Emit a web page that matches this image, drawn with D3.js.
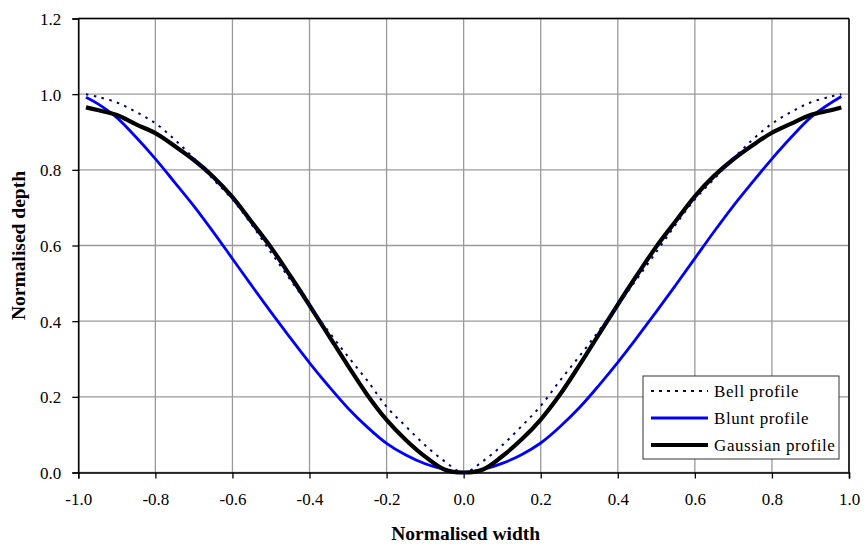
<!DOCTYPE html>
<html>
<head>
<meta charset="utf-8">
<script src="https://cdn.jsdelivr.net/npm/d3@7"></script>
<style>
  html, body { margin: 0; padding: 0; background: #fff; }
  svg { display: block; }
  text { font-family: "Liberation Serif", "Times New Roman", serif; fill: #000; }
</style>
</head>
<body>
<svg id="chart" width="864" height="545"></svg>
<script>
// ---- data ----
const widths = [-0.98, -0.95, -0.90, -0.85, -0.80, -0.75, -0.70, -0.65, -0.60, -0.55, -0.50,
                -0.45, -0.40, -0.35, -0.30, -0.25, -0.20, -0.15, -0.10, -0.05, 0.00,
                0.05, 0.10, 0.15, 0.20, 0.25, 0.30, 0.35, 0.40, 0.45, 0.50,
                0.55, 0.60, 0.65, 0.70, 0.75, 0.80, 0.85, 0.90, 0.95, 0.98];

const bellProfile = [1.000, 0.993, 0.978, 0.953, 0.923, 0.880, 0.830, 0.775, 0.722, 0.655, 0.582,
                     0.510, 0.440, 0.372, 0.306, 0.243, 0.174, 0.122, 0.072, 0.030, 0.000,
                     0.030, 0.072, 0.122, 0.176, 0.243, 0.307, 0.373, 0.442, 0.512, 0.583,
                     0.655, 0.722, 0.776, 0.830, 0.880, 0.922, 0.953, 0.978, 0.993, 1.000];

const bluntProfile = [0.992, 0.975, 0.938, 0.886, 0.829, 0.767, 0.704, 0.636, 0.565, 0.494, 0.424,
                      0.356, 0.290, 0.228, 0.170, 0.120, 0.077, 0.046, 0.023, 0.008, 0.000,
                      0.008, 0.024, 0.047, 0.078, 0.121, 0.171, 0.229, 0.291, 0.357, 0.425,
                      0.495, 0.566, 0.637, 0.705, 0.768, 0.829, 0.886, 0.938, 0.975, 0.994];

const gaussianProfile = [0.965, 0.958, 0.945, 0.920, 0.897, 0.863, 0.826, 0.782, 0.728, 0.662, 0.595,
                         0.520, 0.442, 0.362, 0.282, 0.205, 0.139, 0.086, 0.042, 0.008, 0.000,
                         0.008, 0.043, 0.087, 0.140, 0.206, 0.283, 0.364, 0.444, 0.522, 0.597,
                         0.664, 0.730, 0.784, 0.828, 0.865, 0.898, 0.922, 0.945, 0.957, 0.965];

const xTicks = [-1.0, -0.8, -0.6, -0.4, -0.2, 0.0, 0.2, 0.4, 0.6, 0.8, 1.0];
const yTicks = [0.0, 0.2, 0.4, 0.6, 0.8, 1.0, 1.2];
const seriesNames = ["Bell profile", "Blunt profile", "Gaussian profile"];
const xTitle = "Normalised width";
const yTitle = "Normalised depth";

// ---- layout ----
const plot = { left: 78.3, right: 849, top: 18.5, bottom: 472.5 };
const svg = d3.select("#chart");

const x = d3.scaleLinear().domain([-1, 1]).range([plot.left, plot.right]);
const y = d3.scaleLinear().domain([0, 1.2]).range([plot.bottom, plot.top]);
const fmt = d => d3.format(".1f")(d).replace("\u2212", "-");

// gridlines
const grid = svg.append("g");
grid.selectAll("line.v").data(xTicks).join("line")
  .attr("x1", d => x(d)).attr("x2", d => x(d))
  .attr("y1", plot.top).attr("y2", plot.bottom)
  .attr("stroke", "#9a9a9a").attr("stroke-width", 1.3);
grid.selectAll("line.h").data(yTicks).join("line")
  .attr("x1", plot.left).attr("x2", plot.right)
  .attr("y1", d => y(d)).attr("y2", d => y(d))
  .attr("stroke", "#9a9a9a").attr("stroke-width", 1.3);

// frame (top & right)
svg.append("line").attr("x1", plot.left).attr("x2", plot.right).attr("y1", plot.top).attr("y2", plot.top)
  .attr("stroke", "#000").attr("stroke-width", 1.5);
svg.append("line").attr("x1", plot.right).attr("x2", plot.right).attr("y1", plot.top).attr("y2", plot.bottom)
  .attr("stroke", "#000").attr("stroke-width", 1.5);

// axes
const xAxis = d3.axisBottom(x).tickValues(xTicks).tickFormat(fmt).tickSize(6).tickPadding(14);
const yAxis = d3.axisLeft(y).tickValues(yTicks).tickFormat(fmt).tickSize(6).tickPadding(11);

const gx = svg.append("g").attr("transform", `translate(0,${plot.bottom})`).call(xAxis);
const gy = svg.append("g").attr("transform", `translate(${plot.left},0)`).call(yAxis);
[gx, gy].forEach(g => {
  g.attr("font-family", "Liberation Serif, Times New Roman, serif").attr("font-size", 17);
  g.select(".domain").attr("stroke", "#000").attr("stroke-width", 1.5);
  g.selectAll(".tick line").attr("stroke", "#000").attr("stroke-width", 1.3);
  g.selectAll(".tick text").attr("fill", "#000");
});
gy.selectAll(".tick text").attr("dy", "0.35em");

// axis titles
svg.append("text").attr("x", (plot.left + plot.right) / 2 + 2).attr("y", 540)
  .attr("text-anchor", "middle").attr("font-weight", "bold").attr("font-size", 19.5)
  .text(xTitle);
svg.append("text").attr("transform", `translate(25,${(plot.top + plot.bottom) / 2}) rotate(-90)`)
  .attr("text-anchor", "middle").attr("font-weight", "bold").attr("font-size", 19.5)
  .text(yTitle);

// lines
const styles = [
  { color: "#000080", width: 2, dash: "2.5,5.5" },
  { color: "#0000ff", width: 2.8, dash: null },
  { color: "#000000", width: 4.2, dash: null }
];
const seriesData = [bellProfile, bluntProfile, gaussianProfile];
const line = d3.line().x(d => x(d[0])).y(d => y(d[1])).curve(d3.curveCatmullRom.alpha(0.5));

const drawOrder = [1, 2, 0];
drawOrder.forEach(i => {
  const pts = widths.map((w, k) => [w, seriesData[i][k]]);
  const p = svg.append("path").datum(pts)
    .attr("d", line).attr("fill", "none")
    .attr("stroke", styles[i].color).attr("stroke-width", styles[i].width)
    .attr("stroke-linejoin", "round");
  if (styles[i].dash) p.attr("stroke-dasharray", styles[i].dash);
});

// legend
const lg = svg.append("g");
lg.append("rect").attr("x", 643).attr("y", 376).attr("width", 196).attr("height", 83)
  .attr("fill", "#fff").attr("stroke", "#333").attr("stroke-width", 1);
const rowY = [391, 418, 445];
seriesNames.forEach((name, i) => {
  const l = lg.append("line").attr("x1", 651).attr("x2", 708)
    .attr("y1", rowY[i]).attr("y2", rowY[i])
    .attr("stroke", styles[i].color).attr("stroke-width", styles[i].width);
  if (styles[i].dash) l.attr("stroke-dasharray", "3,5");
  lg.append("text").attr("x", 714).attr("y", rowY[i]).attr("dy", "0.35em")
    .attr("font-size", 17).attr("letter-spacing", "0.6px").text(name);
});
</script>
</body>
</html>
